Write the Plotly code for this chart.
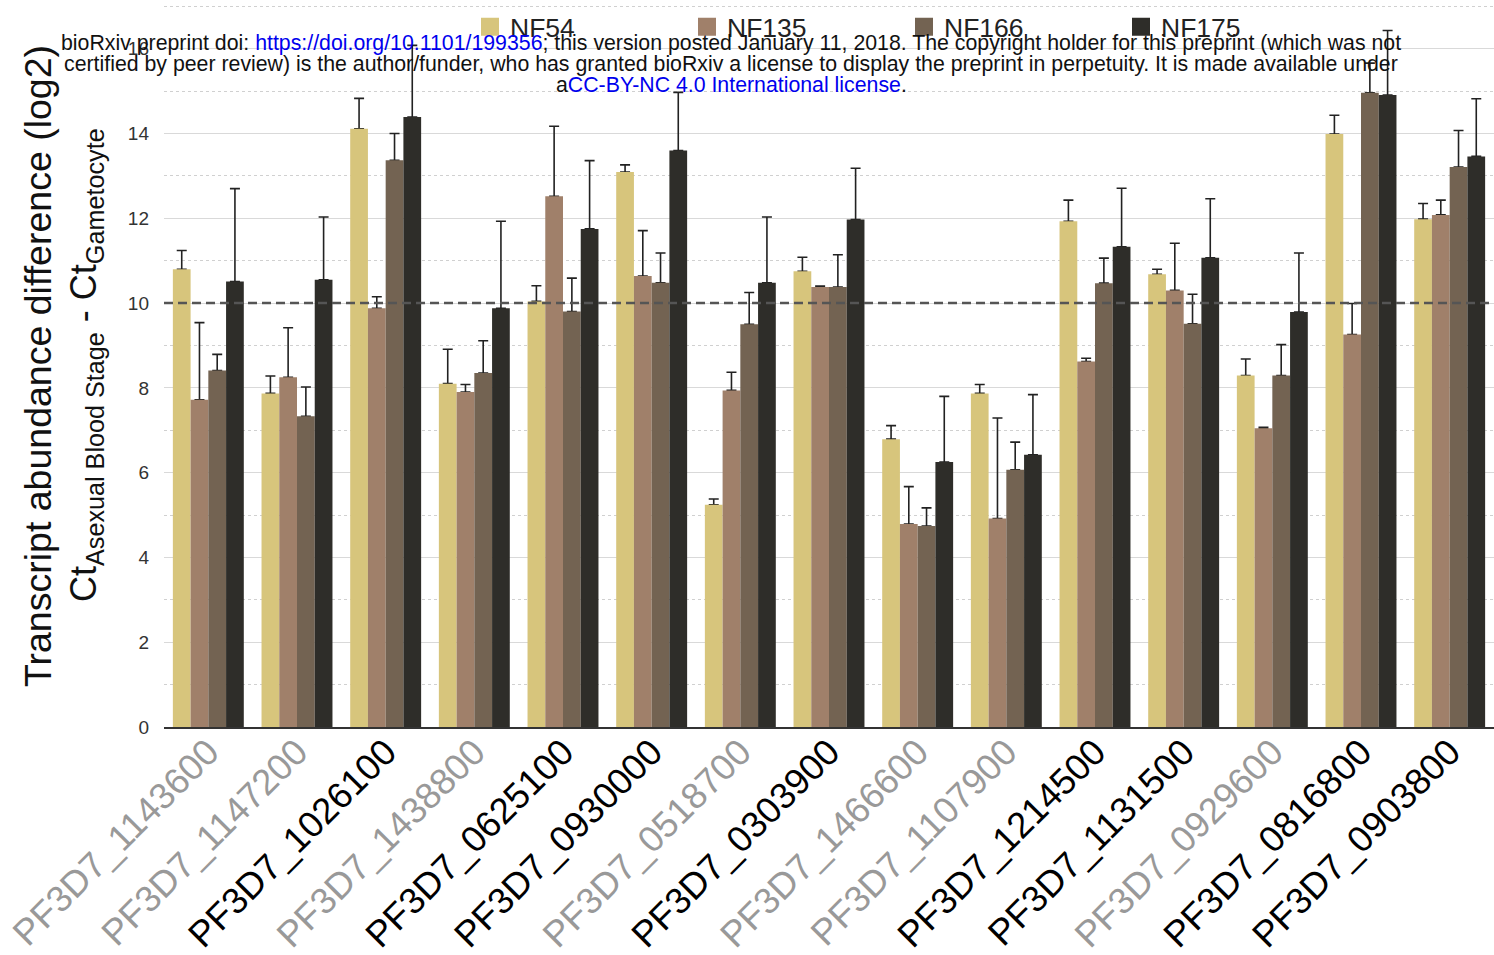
import plotly.graph_objects as go

# Genes on the x axis and whether each label is drawn in grey
genes = ["PF3D7_1143600", "PF3D7_1147200", "PF3D7_1026100", "PF3D7_1438800",
         "PF3D7_0625100", "PF3D7_0930000", "PF3D7_0518700", "PF3D7_0303900",
         "PF3D7_1466600", "PF3D7_1107900", "PF3D7_1214500", "PF3D7_1131500",
         "PF3D7_0929600", "PF3D7_0816800", "PF3D7_0903800"]
grey_label = [True, True, False, True, False, False, True, False,
              True, True, False, False, True, False, False]

# Mean Ct difference per strain
nf54 = [10.80, 7.87, 14.11, 8.10, 10.04, 13.09, 5.24, 10.75, 6.79, 7.87, 11.93, 10.68, 8.29, 13.99, 11.98]
nf135 = [7.72, 8.25, 9.88, 7.90, 12.52, 10.64, 7.94, 10.38, 4.79, 4.92, 8.62, 10.30, 7.05, 9.26, 12.08]
nf166 = [8.41, 7.33, 13.37, 8.35, 9.80, 10.48, 9.50, 10.38, 4.74, 6.07, 10.47, 9.51, 8.29, 14.96, 13.21]
nf175 = [10.51, 10.55, 14.39, 9.88, 11.75, 13.60, 10.48, 11.97, 6.25, 6.42, 11.33, 11.07, 9.79, 14.91, 13.46]

# Upper error (standard deviation)
err54 = [0.44, 0.41, 0.72, 0.81, 0.37, 0.17, 0.14, 0.33, 0.32, 0.21, 0.50, 0.12, 0.39, 0.44, 0.37]
err135 = [1.82, 1.17, 0.27, 0.18, 1.65, 1.07, 0.43, 0.02, 0.88, 2.37, 0.08, 1.11, 0.02, 0.73, 0.35]
err166 = [0.38, 0.69, 0.63, 0.76, 0.79, 0.70, 0.75, 0.76, 0.43, 0.65, 0.59, 0.70, 0.73, 0.70, 0.86]
err175 = [2.19, 1.48, 1.69, 2.05, 1.61, 1.37, 1.55, 1.21, 1.55, 1.42, 1.38, 1.39, 1.39, 1.52, 1.36]

strains = ["NF54", "NF135", "NF166", "NF175"]
values = [nf54, nf135, nf166, nf175]
errors = [err54, err135, err166, err175]
colors = ["#d7c57c", "#a0806a", "#736352", "#2e2d29"]

threshold = 10

FONT = "Liberation Sans, Arial, Helvetica, sans-serif"
W, H = 1494, 955
L, R, T, B = 164, 0, 0, 228
PW, PH = W - L - R, H - T - B


def px_x(x):
    return (x - L) / PW


def px_y(y):
    return (H - B - y) / PH


fig = go.Figure()

# Error bars sit underneath the coloured bars so only the upper whisker shows
for name, vals, errs in zip(strains, values, errors):
    fig.add_trace(go.Bar(
        x=genes, y=vals, offsetgroup=name, showlegend=False,
        marker=dict(color="rgba(0,0,0,0)", line=dict(width=0)),
        error_y=dict(type="data", symmetric=False, array=errs,
                     arrayminus=[0] * len(errs), color="#222222",
                     thickness=1.6, width=5),
        hoverinfo="skip",
    ))

for name, vals, col in zip(strains, values, colors):
    fig.add_trace(go.Bar(
        x=genes, y=vals, name=name, offsetgroup=name, showlegend=False,
        marker=dict(color=col, line=dict(width=0)),
    ))

# Legend entries with larger square swatches
for name, col in zip(strains, colors):
    fig.add_trace(go.Scatter(
        x=[None], y=[None], mode="markers", name=name,
        marker=dict(symbol="square", size=16, color=col,
                    line=dict(color=col, width=2)),
    ))

tick_text = [
    f'<span style="color:#999999">{g}</span>' if grey else g
    for g, grey in zip(genes, grey_label)
]

fig.update_layout(
    width=W, height=H,
    margin=dict(l=L, r=R, t=T, b=B, autoexpand=False),
    paper_bgcolor="white", plot_bgcolor="white",
    barmode="group", bargap=0.2, bargroupgap=0,
    font=dict(family=FONT, color="#222222"),
    showlegend=True,
    legend=dict(
        orientation="h", x=px_x(470), y=px_y(27), xanchor="left", yanchor="middle",
        bgcolor="rgba(0,0,0,0)", font=dict(size=26.5, color="#222222", family=FONT),
        entrywidth=172, entrywidthmode="pixels", itemsizing="trace",
        traceorder="normal",
    ),
    xaxis=dict(
        type="category", range=[-0.5, 14.5], tickmode="array",
        tickvals=genes, ticktext=tick_text, tickangle=-45,
        tickfont=dict(size=36.5, color="#000000", family=FONT),
        showgrid=False, showline=True, linecolor="#333333", linewidth=2,
        ticks="", automargin=False, ticklabelstandoff=-13,
    ),
    yaxis=dict(
        range=[0, 17.15], tickmode="array", tickvals=list(range(0, 17, 2)),
        tickfont=dict(size=19, color="#333333", family=FONT),
        showgrid=True, gridcolor="#d9d9d9", gridwidth=1,
        minor=dict(tickvals=list(range(1, 18, 2)), showgrid=True,
                   gridcolor="#d0d0d0", griddash="dot", gridwidth=1),
        zeroline=False, showline=False, ticks="", ticklabelstandoff=14,
        automargin=False,
    ),
)

# Reference threshold line
fig.add_shape(type="line", xref="paper", yref="y", x0=0, x1=1,
              y0=threshold, y1=threshold, layer="above",
              line=dict(color="#555555", width=2.5, dash="9px,5px"))

# Axis title, two rotated lines
fig.add_annotation(
    text="Transcript abundance difference (log2)", textangle=-90,
    xref="paper", yref="paper", x=px_x(38), y=px_y(366),
    xanchor="center", yanchor="middle", showarrow=False,
    font=dict(size=37.5, color="#111111", family=FONT),
)
fig.add_annotation(
    text="Ct<sub>Asexual Blood Stage</sub> - Ct<sub>Gametocyte</sub>", textangle=-90,
    xref="paper", yref="paper", x=px_x(86), y=px_y(365),
    xanchor="center", yanchor="middle", showarrow=False,
    font=dict(size=36, color="#111111", family=FONT),
)

# Preprint notice
blue = "#0000ee"
notice = [
    ("bioRxiv preprint doi: "
     f'<span style="color:{blue}">https://doi.org/10.1101/199356</span>'
     "; this version posted January 11, 2018. The copyright holder for this preprint (which was not", 43),
    ("certified by peer review) is the author/funder, who has granted bioRxiv a license to display "
     "the preprint in perpetuity. It is made available under", 64),
    (f'a<span style="color:{blue}">CC-BY-NC 4.0 International license</span>.', 85),
]
for txt, yc in notice:
    fig.add_annotation(
        text=txt, xref="paper", yref="paper", x=px_x(731), y=px_y(yc),
        xanchor="center", yanchor="middle", showarrow=False,
        font=dict(size=21.3, color="#111111", family=FONT),
    )

fig.write_html("out.html")
